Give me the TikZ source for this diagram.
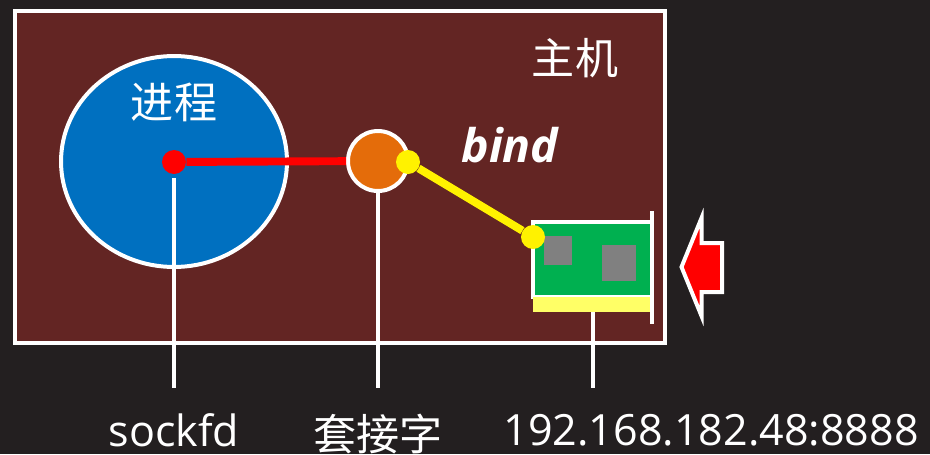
\documentclass[tikz,border=0pt]{standalone}
\usepackage{fontspec}
\usetikzlibrary{shapes.geometric}
\setmainfont{Open Sans}
\newfontfamily\cjk{Noto Sans CJK SC}
\definecolor{pagebg}{HTML}{231F20}
\definecolor{hostbg}{HTML}{632523}
\definecolor{procblue}{HTML}{0070C0}
\definecolor{sockorange}{HTML}{E46C0A}
\definecolor{cardgreen}{HTML}{00B050}
\definecolor{stripyellow}{HTML}{FFFF66}
\begin{document}
\begin{tikzpicture}[x=0.02cm,y=0.02cm]
\tikzstyle{every node}+=[inner sep=0pt,text=white]
\tikzstyle{edge}=[draw=white,line width=2.27pt]
\tikzstyle{dot}=[circle,minimum size=0.48cm]
\tikzstyle{chip}=[fill=gray,anchor=north west]
\tikzstyle{bigtext}=[font=\fontsize{24.5}{28}\selectfont]
\tikzstyle{leader}=[white,line width=2.27pt]
\fill [pagebg] (0,0) rectangle (930,-454);
\node (host) [edge,fill=hostbg,minimum width=13cm,minimum height=6.64cm] at (340,-177) {};
\node (process) [edge,ellipse,fill=procblue,minimum width=4.52cm,minimum height=4.22cm] at (174,-161.5) {};
\node (socket) [edge,circle,fill=sockorange,minimum size=1.2cm] at (378,-161) {};
\node (card) [edge,fill=cardgreen,minimum width=2.38cm,minimum height=1.5cm] at (592.5,-259.5) {};
\node (strip) [fill=stripyellow,minimum width=2.34cm,minimum height=0.3cm] at (591.4,-304.3) {};
\node (chipa) [chip,minimum width=0.56cm,minimum height=0.58cm] at (544,-236) {};
\node (chipb) [chip,minimum width=0.68cm,minimum height=0.72cm] at (602,-245) {};
\coordinate (platetop) at (652,-211);
\coordinate (platebot) at (652,-324);
\draw [leader] (platetop) -- (platebot);
\node (piddot) [dot,fill=red] at (174,-162) {};
\node (sockdot) [dot,fill=yellow] at (408,-162) {};
\node (carddot) [dot,fill=yellow] at (533,-237) {};
\draw [red,line width=4.5pt] (piddot) -- (socket);
\draw [yellow,line width=4.5pt] (sockdot) -- (carddot);
\draw [edge,fill=red,miter limit=20] (681.5,-267) -- (701.5,-218) -- (701.5,-243) -- (722,-243) -- (722,-292) -- (701.5,-292) -- (701.5,-316) -- cycle;
\coordinate (sockfdend) at (174,-388);
\coordinate (socketend) at (378,-388);
\coordinate (addrend) at (592.5,-388);
\draw [leader,shorten <=0.08cm] (piddot) -- (sockfdend);
\draw [leader] (socket) -- (socketend);
\draw [leader] (strip.south -| addrend) -- (addrend);
\node (hostlabel) [bigtext] at (575,-58) {\cjk 主机};
\node (proclabel) [bigtext] at (174,-102) {\cjk 进程};
\node (bindlabel) [font=\fontsize{26.4}{30}\selectfont] at (510,-145) {\bfseries\itshape bind};
\node (sockfdlabel) [bigtext] at (174,-430) {sockfd};
\node (socketlabel) [bigtext] at (378,-434) {\cjk 套接字};
\node (addrlabel) [bigtext] at (711,-430) {192.168.182.48:8888};
\end{tikzpicture}
\end{document}
